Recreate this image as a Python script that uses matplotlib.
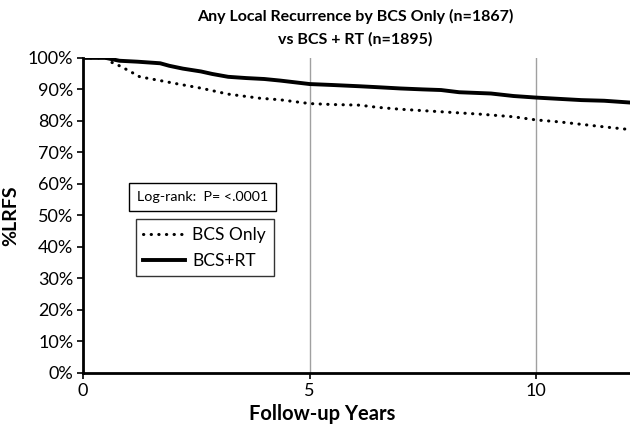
import matplotlib.pyplot as plt
from matplotlib.ticker import PercentFormatter

# Kaplan-Meier curves (years, fraction free of local recurrence)
rt_years = [0, 0.5, 0.8, 1.2, 1.7, 1.9, 2.2, 2.6, 2.85, 3.2, 3.6, 4.0, 4.35, 5.0, 5.5, 6.1, 6.5, 7.0, 7.5, 7.9, 8.3, 9.0, 9.5, 10.0, 10.5, 11.0, 11.5, 12.1]
rt_surv = [1.0, 1.0, 0.991, 0.988, 0.983, 0.975, 0.966, 0.957, 0.949, 0.940, 0.936, 0.933, 0.928, 0.917, 0.914, 0.910, 0.907, 0.903, 0.900, 0.898, 0.891, 0.887, 0.879, 0.874, 0.870, 0.866, 0.864, 0.858]

bcs_years = [0, 0.5, 0.55, 0.8, 1.0, 1.25, 1.7, 2.1, 2.6, 3.2, 3.9, 4.35, 5.0, 5.5, 6.1, 6.5, 7.0, 7.9, 8.8, 9.5, 10.0, 10.5, 11.0, 11.5, 12.1]
bcs_surv = [1.0, 1.0, 0.991, 0.975, 0.960, 0.940, 0.928, 0.917, 0.904, 0.885, 0.872, 0.867, 0.855, 0.852, 0.850, 0.843, 0.837, 0.829, 0.821, 0.813, 0.803, 0.797, 0.789, 0.781, 0.772]

font = 'Lato'
plt.rcParams['font.family'] = font

fig = plt.figure(figsize=(6.3, 4.29), dpi=100)
ax = fig.add_axes([0.132, 0.131, 0.868, 0.734])

ax.plot(bcs_years, bcs_surv, color='black', lw=2.2, linestyle=(0, (0.1, 2.4)),
        dash_capstyle='round', label='BCS Only')
ax.plot(rt_years, rt_surv, color='black', lw=2.8, label='BCS+RT')

ax.set_xlim(0, 12.07)
ax.set_ylim(0, 1)
ax.set_xticks([0, 5, 10])
ax.set_yticks([i / 10 for i in range(11)])
ax.yaxis.set_major_formatter(PercentFormatter(1.0, decimals=0))
ax.tick_params(labelsize=13, length=4, width=1.2, color='black', pad=3)
ax.grid(axis='x', color='#a0a0a0', lw=1)
ax.set_axisbelow(True)

for s in ['top', 'right']:
    ax.spines[s].set_visible(False)
for s in ['left', 'bottom']:
    ax.spines[s].set_linewidth(2)

ax.set_ylabel('%LRFS', fontsize=14, fontweight='bold', labelpad=6)
fig.text(0.512, 0.012, 'Follow-up Years', fontsize=14.5, fontweight='bold', ha='center', va='bottom')

fig.text(0.564, 0.935, 'Any Local Recurrence by BCS Only (n=1867)\nvs BCS + RT (n=1895)',
         fontsize=11.5, fontweight='bold', ha='center', va='center', linespacing=1.7)

fig.text(0.321, 0.54, 'Log-rank:  P= <.0001', fontsize=10.3, ha='center', va='center',
         bbox=dict(boxstyle='square,pad=0.55', fc='white', ec='black', lw=1))

leg = ax.legend(loc='upper left', bbox_to_anchor=(0.08, 0.515), fontsize=12.5,
                frameon=True, fancybox=False, edgecolor='black', handlelength=2.4,
                handletextpad=0.4, borderpad=0.45, labelspacing=0.55)
leg.get_frame().set_linewidth(1)

plt.savefig('out.png', dpi=100)
